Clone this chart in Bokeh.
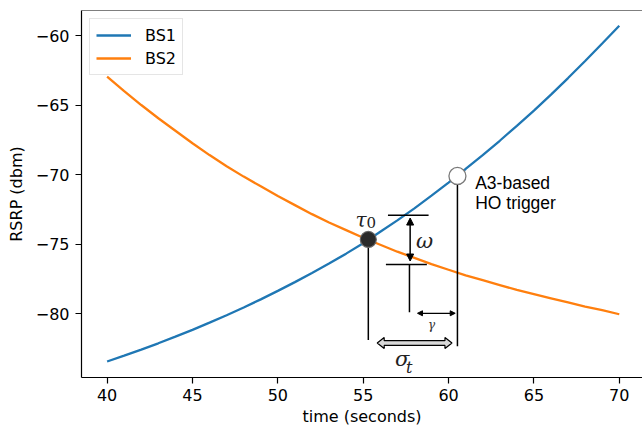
from bokeh.plotting import figure
from bokeh.models import (Range1d, FixedTicker, CustomJSTickFormatter, Span, Arrow,
                          NormalHead, Legend, LegendItem)
from bokeh.core.properties import value
from bokeh.embed import file_html
from bokeh.resources import INLINE

# ---- data ----
time_s = [40, 41, 42, 43, 44, 45, 46, 47, 48, 49, 50, 51, 52, 53, 54, 55,
          56, 57, 58, 59, 60, 61, 62, 63, 64, 65, 66, 67, 68, 69, 70]
bs1 = [-83.45, -83.03, -82.59, -82.14, -81.66, -81.17, -80.65, -80.12, -79.56, -78.98,
       -78.37, -77.74, -77.08, -76.40, -75.69, -74.94, -74.12, -73.30, -72.43, -71.52,
       -70.58, -69.60, -68.60, -67.57, -66.50, -65.40, -64.25, -63.06, -61.83, -60.57, -59.30]
bs2 = [-62.95, -64.00, -65.00, -65.95, -66.85, -67.75, -68.60, -69.40, -70.15, -70.85,
       -71.55, -72.20, -72.85, -73.45, -74.00, -74.55, -75.05, -75.55, -76.00, -76.45,
       -76.85, -77.25, -77.60, -77.95, -78.30, -78.60, -78.90, -79.20, -79.50, -79.75, -80.05]
x_ticks = [40, 45, 50, 55, 60, 65, 70]
y_ticks = [-80, -75, -70, -65, -60]

# annotation anchors (data units)
cross_pt = (55.3, -74.67)        # tau_0
trigger_pt = (60.52, -70.1)      # A3 trigger
omega_top = -72.93
omega_bot = -76.47
omega_x = 57.75
gamma_y = -79.98
gamma_x = (58.18, 60.39)
sigma_x = (55.82, 60.2)
sigma_y = -82.12

BLUE = "#1f77b4"
ORANGE = "#ff7f0e"

p = figure(width=642, height=428, output_backend="svg", toolbar_location=None,
           x_range=Range1d(38.5, 71.36), y_range=Range1d(-84.6, -58.2),
           min_border_left=81, min_border_right=0, min_border_top=10, min_border_bottom=51)
p.background_fill_color = "white"
p.border_fill_color = "white"
p.outline_line_color = None
p.xgrid.visible = False
p.ygrid.visible = False

r1 = p.line(time_s, bs1, line_color=BLUE, line_width=2.3)
r2 = p.line(time_s, bs2, line_color=ORANGE, line_width=2.3)

# top spine (right one is cropped in the reference)
p.add_layout(Span(location=-58.2, dimension="width", line_color="black", line_width=1.2))

for ax in (p.xaxis[0], p.yaxis[0]):
    ax.axis_line_color = "black"
    ax.axis_line_width = 1.2
    ax.major_tick_line_color = "black"
    ax.major_tick_line_width = 1.2
    ax.major_tick_out = 6
    ax.major_tick_in = 0
    ax.minor_tick_out = 0
    ax.minor_tick_in = 0
    ax.major_label_text_font = "DejaVu Sans"
    ax.major_label_text_font_size = "16px"
    ax.major_label_text_color = "black"
    ax.axis_label_text_font = "DejaVu Sans"
    ax.axis_label_text_font_size = "16px"
    ax.axis_label_text_font_style = "normal"
    ax.axis_label_text_color = "black"

p.xaxis.ticker = FixedTicker(ticks=x_ticks)
p.yaxis.ticker = FixedTicker(ticks=y_ticks)
p.yaxis.formatter = CustomJSTickFormatter(code="return (tick < 0 ? '\u2212' : '') + Math.abs(tick).toString();")
p.xaxis.axis_label = "time (seconds)"
p.yaxis.axis_label = "RSRP (dbm)"
p.xaxis.major_label_standoff = 5
p.yaxis.major_label_standoff = 6
p.xaxis.axis_label_standoff = 3
p.yaxis.axis_label_standoff = 7

# ---- annotations ----
blk = "black"
# vertical drop lines
p.segment(x0=[cross_pt[0], trigger_pt[0], omega_x - 0.04], y0=[cross_pt[1], trigger_pt[1], omega_bot],
          x1=[cross_pt[0], trigger_pt[0], omega_x - 0.04], y1=[-81.9, -82.36, -79.9],
          line_color=blk, line_width=1.5)
# horizontal ticks around omega
p.segment(x0=[56.45, 56.33], y0=[omega_top, omega_bot], x1=[58.83, 58.73], y1=[omega_top, omega_bot],
          line_color=blk, line_width=1.5)
# omega double arrow
p.add_layout(Arrow(start=NormalHead(size=7, fill_color=blk, line_color=blk),
                   end=NormalHead(size=7, fill_color=blk, line_color=blk),
                   x_start=omega_x, y_start=omega_top - 0.2, x_end=omega_x, y_end=omega_bot + 0.25,
                   line_color=blk, line_width=1.5))
# gamma double arrow
p.add_layout(Arrow(start=NormalHead(size=5, fill_color=blk, line_color=blk),
                   end=NormalHead(size=5, fill_color=blk, line_color=blk),
                   x_start=gamma_x[0], y_start=gamma_y, x_end=gamma_x[1], y_end=gamma_y,
                   line_color=blk, line_width=1.2))
# sigma fat double arrow
hl, hh, bh = 0.41, 0.40, 0.17
x0, x1 = sigma_x
c = sigma_y
ax_ = [x0, x0 + hl, x0 + hl, x1 - hl, x1 - hl, x1, x1 - hl, x1 - hl, x0 + hl, x0 + hl]
ay_ = [c, c + hh, c + bh, c + bh, c + hh, c, c - hh, c - bh, c - bh, c - hh]
p.patch(ax_, ay_, fill_color="#d9d9d9", line_color=blk, line_width=1.2)

# markers
p.scatter([cross_pt[0]], [cross_pt[1]], size=16, fill_color="#2a2a2a", line_color="#666666", line_width=1.2)
p.scatter([trigger_pt[0]], [trigger_pt[1]], size=17, fill_color="white", line_color="#7a7a7a", line_width=1.3)

# texts
p.text(x=[61.56, 61.56], y=[-70.62, -72.05], text=["A3-based", "HO trigger"],
       text_font=value("Liberation Sans"), text_font_size="17.5px", text_color=blk,
       text_baseline="alphabetic", text_align="left")
p.text(x=[54.55], y=[-73.3], text=["τ"], text_font=value("DejaVu Serif"), text_font_style="italic",
       text_font_size="20px", text_color="#222222", text_baseline="alphabetic")
p.text(x=[55.2], y=[-73.45], text=["0"], text_font=value("DejaVu Serif"),
       text_font_size="15px", text_color="#222222", text_baseline="alphabetic")
p.text(x=[58.1], y=[-74.8], text=["ω"], text_font=value("DejaVu Serif"), text_font_style="italic",
       text_font_size="21px", text_color="#222222", text_baseline="alphabetic")
p.text(x=[58.8], y=[-80.8], text=["γ"], text_font=value("DejaVu Serif"), text_font_style="italic",
       text_font_size="12px", text_color="#333333", text_baseline="alphabetic")
p.text(x=[56.87], y=[-83.3], text=["σ"], text_font=value("DejaVu Serif"), text_font_style="italic",
       text_font_size="21px", text_color="#222222", text_baseline="alphabetic")
p.text(x=[57.5], y=[-83.85], text=["t"], text_font=value("DejaVu Serif"), text_font_style="italic",
       text_font_size="16px", text_color="#222222", text_baseline="alphabetic")

legend = Legend(items=[LegendItem(label="BS1", renderers=[r1]), LegendItem(label="BS2", renderers=[r2])],
                location="top_left", margin=8, padding=6, spacing=3,
                glyph_width=35, glyph_height=20, label_height=20, label_standoff=14,
                label_text_font="DejaVu Sans", label_text_font_size="16px", label_text_color="black",
                border_line_color="#cccccc", border_line_width=1.2,
                background_fill_color="white", background_fill_alpha=0.8)
p.add_layout(legend)

open("out.html", "w").write(file_html(p, INLINE))
